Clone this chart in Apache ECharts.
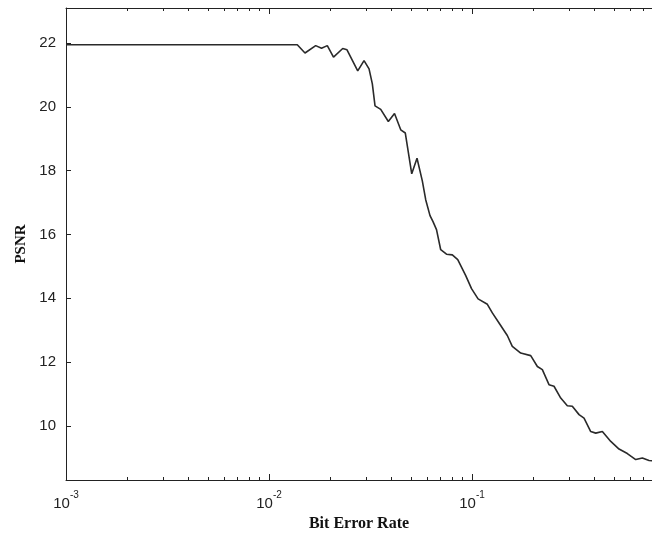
<!DOCTYPE html>
<html>
<head>
<meta charset="utf-8">
<script src="https://cdn.jsdelivr.net/npm/echarts@6/dist/echarts.min.js"></script>
<style>
html,body{margin:0;padding:0;background:#fff;}
#chart{width:652px;height:539px;}
</style>
</head>
<body>
<div id="chart"></div>
<script>
// Bit error rate (x, log scale)
const ber = [0.001, 0.0106, 0.01083, 0.0112, 0.01378, 0.01504, 0.01698, 0.01814, 0.01937, 0.02078,
  0.02307, 0.02422, 0.02735, 0.02938, 0.0311, 0.03228, 0.03328, 0.0355, 0.0387, 0.04151,
  0.04455, 0.04692, 0.05047, 0.05358, 0.0569, 0.05913, 0.06209, 0.06424, 0.06684, 0.0701,
  0.07486, 0.07998, 0.08504, 0.09311, 0.09943, 0.1071, 0.119, 0.1259, 0.1366, 0.1492,
  0.1579, 0.1737, 0.1946, 0.2098, 0.222, 0.2394, 0.2534, 0.2735, 0.2947, 0.3119,
  0.3366, 0.3562, 0.3843, 0.4068, 0.4385, 0.4824, 0.5298, 0.5821, 0.6403, 0.6901,
  0.7446, 0.85];
// PSNR (y)
const psnr = [21.95, 21.95, 21.9, 21.95, 21.95, 21.69, 21.92, 21.84, 21.92, 21.56,
  21.83, 21.79, 21.13, 21.45, 21.19, 20.72, 20.03, 19.92, 19.54, 19.79,
  19.28, 19.18, 17.9, 18.39, 17.68, 17.09, 16.59, 16.4, 16.15, 15.52,
  15.38, 15.36, 15.21, 14.71, 14.3, 13.98, 13.81, 13.54, 13.2, 12.83,
  12.49, 12.28, 12.2, 11.86, 11.76, 11.29, 11.24, 10.87, 10.63, 10.61,
  10.35, 10.24, 9.82, 9.77, 9.82, 9.51, 9.27, 9.13, 8.94, 8.99,
  8.91, 8.88];

const yTicks = [10, 12, 14, 16, 18, 20, 22];
const xLabelTicks = [0.001, 0.01, 0.1];
const xMajorTicks = [0.001, 0.01, 0.1];
const xMinorTicks = [0.002, 0.003, 0.004, 0.005, 0.006, 0.007, 0.008, 0.009,
  0.02, 0.03, 0.04, 0.05, 0.06, 0.07, 0.08, 0.09,
  0.2, 0.3, 0.4, 0.5, 0.6, 0.7];
const xMin = 0.001, xMax = 0.77;

const chart = echarts.init(document.getElementById('chart'));
const lineCol = '#222';
function xAx(pos, ticks, len, showLine, labels) {
  return {
    type: 'log', logBase: 10, min: xMin, max: xMax, position: pos,
    axisLine: {show: showLine, onZero: false, lineStyle: {color: lineCol, width: 1}},
    axisTick: {show: true, inside: true, length: len, customValues: ticks, lineStyle: {color: lineCol, width: 1}},
    splitLine: {show: false},
    axisLabel: labels ? {
      show: true, customValues: xLabelTicks, margin: 10,
      formatter: function (v) { return '{b|10}{s|' + Math.round(Math.log10(v)) + '}'; },
      rich: {
        b: {fontFamily: 'Liberation Sans, Arial', fontSize: 15, color: '#222', padding: [6, 0, 0, 0]},
        s: {fontFamily: 'Liberation Sans, Arial', fontSize: 10, color: '#222', verticalAlign: 'top', padding: [0, 0, 8, 0]}
      }
    } : {show: false}
  };
}
const xAxes = [
  xAx('bottom', xMajorTicks, 6, true, true),
  xAx('bottom', xMinorTicks, 3, false, false),
  xAx('top', xMajorTicks, 6, true, false),
  xAx('top', xMinorTicks, 3, false, false)
];
xAxes[0].name = 'Bit Error Rate';
xAxes[0].nameLocation = 'middle';
xAxes[0].nameGap = 36;
xAxes[0].nameTextStyle = {fontFamily: 'Liberation Serif, Times New Roman', fontWeight: 'bold', fontSize: 16, color: '#111'};

chart.setOption({
  animation: false,
  backgroundColor: '#fff',
  grid: {left: 66, right: 0, top: 8, bottom: 59, containLabel: false},
  xAxis: xAxes,
  yAxis: [{
    type: 'value', min: 8.3, max: 23.1, position: 'left',
    name: 'PSNR', nameLocation: 'middle', nameGap: 35, nameRotate: 90,
    nameTextStyle: {fontFamily: 'Liberation Serif, Times New Roman', fontWeight: 'bold', fontSize: 15, color: '#111'},
    axisLine: {show: true, lineStyle: {color: lineCol, width: 1}},
    axisTick: {show: true, inside: true, length: 5, customValues: yTicks, lineStyle: {color: lineCol}},
    axisLabel: {show: true, customValues: yTicks, margin: 10, fontFamily: 'Liberation Sans, Arial', fontSize: 15, color: '#222'},
    splitLine: {show: false}
  }],
  series: [{
    type: 'line', xAxisIndex: 0, yAxisIndex: 0,
    data: ber.map((b, i) => [b, psnr[i]]),
    showSymbol: false, symbol: 'none',
    lineStyle: {color: '#2a2a2a', width: 1.6},
    clip: true
  }]
});
</script>
</body>
</html>
